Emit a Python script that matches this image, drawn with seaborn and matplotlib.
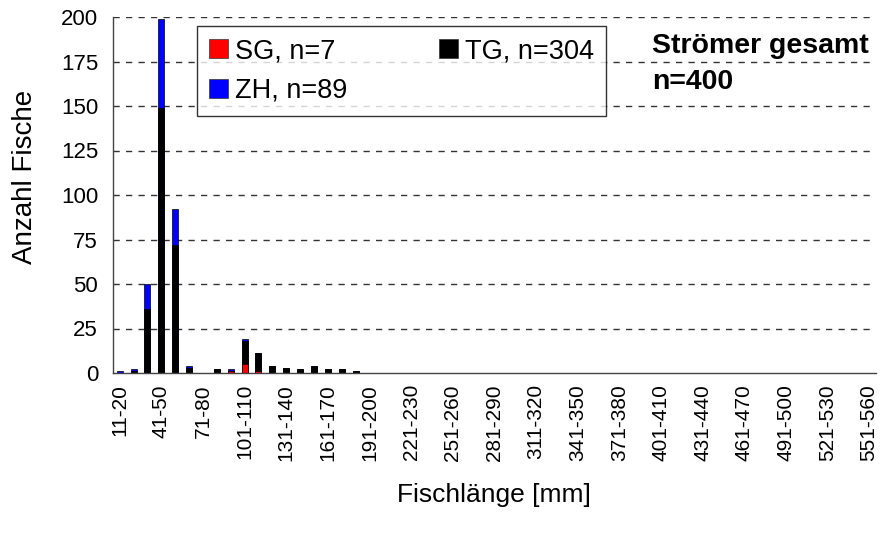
import matplotlib
matplotlib.use("Agg")
import matplotlib.pyplot as plt
import seaborn as sns
import pandas as pd
import numpy as np
from matplotlib.patches import Patch

# ---- data ----
lower_bounds = list(range(11, 552, 10))
categories = [f"{lo}-{lo + 9}" for lo in lower_bounds]
sg = [0, 0, 0, 0, 0, 0, 0, 0, 1, 5, 1, 0, 0, 0, 0, 0, 0, 0] + [0] * 37
tg = [0, 1, 36, 149, 72, 3, 0, 2, 0, 13, 10, 4, 3, 2, 4, 2, 2, 1] + [0] * 37
zh = [1, 1, 14, 50, 20, 1, 0, 0, 1, 1, 0, 0, 0, 0, 0, 0, 0, 0] + [0] * 37
legend_labels = ["SG, n=7", "TG, n=304", "ZH, n=89"]
y_ticks = [0, 25, 50, 75, 100, 125, 150, 175, 200]

df = pd.DataFrame({"cat": categories, "sg": sg, "tg": tg, "zh": zh})
df["l1"] = df["sg"]
df["l2"] = df["sg"] + df["tg"]
df["l3"] = df["sg"] + df["tg"] + df["zh"]

sns.set_theme(style="white")
plt.rcParams["font.family"] = ["Liberation Sans", "DejaVu Sans"]
plt.rcParams["text.color"] = "black"
plt.rcParams["axes.labelcolor"] = "black"
plt.rcParams["xtick.color"] = "black"
plt.rcParams["ytick.color"] = "black"

fig = plt.figure(figsize=(8.85, 5.33), dpi=100)
ax = fig.add_axes([112.7 / 885, 1 - 373 / 533, (876 - 112.7) / 885, 356 / 533])

bw = 0.43
for col, colr in [("l3", "#0000FF"), ("l2", "#000000"), ("l1", "#FF0000")]:
    sns.barplot(data=df, x="cat", y=col, order=categories, color=colr,
                width=bw, edgecolor="black", linewidth=0.5, saturation=1,
                ax=ax, zorder=3)

ax.set_xlim(-0.5, len(categories) - 0.5)
ax.set_ylim(0, 200)
ax.set_yticks(y_ticks)
ax.set_yticklabels([str(v) for v in y_ticks], fontsize=16)

# gridlines
for v in y_ticks[1:]:
    ax.axhline(v, color="#333333", lw=1.0, ls=(0, (4.5, 4.5)), zorder=1)

# x ticks: labels every 3rd category, tick marks at boundaries
ax.set_xticks(range(0, len(categories), 3))
ax.set_xticklabels(categories[::3], rotation=90, fontsize=15)
ax.set_xticks(np.arange(-0.5, len(categories), 1.0), minor=True)
ax.tick_params(axis="x", which="major", length=0, pad=8, labelcolor="black")
ax.tick_params(axis="x", which="minor", length=6, width=1, color="#444444", direction="out")
ax.tick_params(axis="y", which="major", length=9, width=1, color="#444444",
               direction="inout", pad=6, labelcolor="black")

for s in ["top", "right"]:
    ax.spines[s].set_visible(False)
for s in ["left", "bottom"]:
    ax.spines[s].set_color("#444444")
    ax.spines[s].set_linewidth(1)
    ax.spines[s].set_zorder(4)

ax.set_xlabel("Fischlänge [mm]", fontsize=19, labelpad=16, color="black")
ax.set_ylabel("Anzahl Fische", fontsize=20, color="black")
ax.yaxis.set_label_coords(-0.098, 0.55)

handles = [Patch(facecolor="#FF0000", edgecolor="#333333", lw=0.5),
           Patch(facecolor="#0000FF", edgecolor="#333333", lw=0.5),
           Patch(facecolor="#000000", edgecolor="#333333", lw=0.5)]
labels = [legend_labels[0], legend_labels[2], legend_labels[1]]
leg = fig.legend(handles, labels, ncol=2, loc="upper left",
                 bbox_to_anchor=(197 / 885, 1 - 26 / 533), fontsize=19.5,
                 frameon=True, fancybox=False, edgecolor="black",
                 handlelength=0.7, handleheight=0.7, handletextpad=0.25,
                 columnspacing=3.4, borderpad=0.45, labelspacing=0.5,
                 borderaxespad=0, labelcolor="black")
leg.get_frame().set_linewidth(1.0)

fig.text(652 / 885, 1 - 46 / 533, "Strömer gesamt", fontsize=20.5, fontweight="bold",
         va="center", color="black")
fig.text(652 / 885, 1 - 82 / 533, "n=400", fontsize=20.5, fontweight="bold",
         va="center", color="black")

fig.savefig("out.png", dpi=100)
